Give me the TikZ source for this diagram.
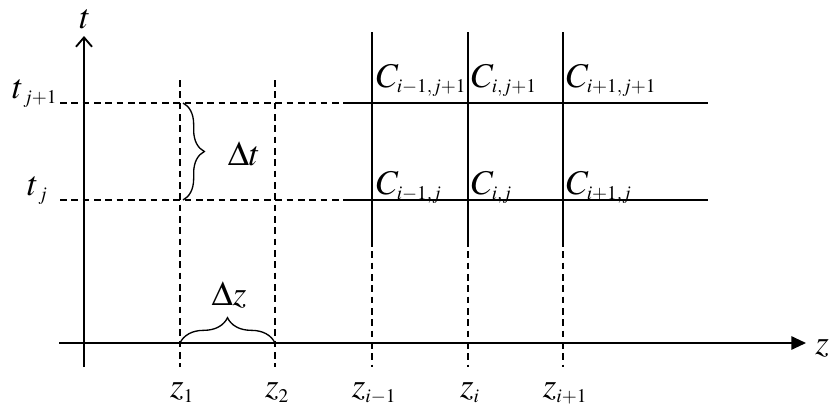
\documentclass[tikz,border=0pt]{standalone}
\usepackage{mathptmx}
\DeclareMathSizes{26}{26}{14.5}{11}
\usetikzlibrary{arrows.meta,decorations.pathreplacing}

\begin{document}
\begin{tikzpicture}[x=0.75pt,y=-0.75pt,font=\fontsize{26}{30}\selectfont,
  axis/.style={line width=1.4pt},
  gridline/.style={line width=1.4pt},
  guide/.style={line width=1.4pt,dash pattern=on 5pt off 3.5pt},
  brace/.style={decorate,decoration={brace,amplitude=#1},line width=1pt}]
  \useasboundingbox (0,0) rectangle (832,407);

  % axes
  \coordinate (tbot) at (84,367);
  \coordinate (ttop) at (84,36);
  \coordinate (zleft) at (59,343);
  \coordinate (zright) at (806,343);
  \draw[axis,-{Straight Barb[length=7pt,width=12pt]}] (tbot) -- (ttop);
  \draw[axis,-{Triangle[length=11pt,width=10pt]}] (zleft) -- (zright);
  \node[anchor=base,inner sep=0pt] (tlab) at (85,28) {$t$};
  \node[anchor=base,inner sep=0pt] (zlab) at (822,354) {$z$};

  % time levels
  \coordinate (tja) at (60,200);
  \coordinate (tjb) at (345,200);
  \coordinate (tjc) at (708,200);
  \coordinate (tja1) at (60,103);
  \coordinate (tjb1) at (345,103);
  \coordinate (tjc1) at (708,103);
  \draw[guide] (tja) -- (tjb);
  \draw[gridline] (tjb) -- (tjc);
  \draw[guide] (tja1) -- (tjb1);
  \draw[gridline] (tjb1) -- (tjc1);
  \node[anchor=base west,inner sep=0pt] (tj1lab) at (12,98) {$t_{\,j+1}$};
  \node[anchor=base west,inner sep=0pt] (tjlab) at (27,195) {$t_{\,j}$};

  % space nodes
  \draw[guide] (180,80) coordinate (za) -- (180,367) coordinate (zb);
  \draw[guide] (275,80) coordinate (zc) -- (275,367) coordinate (zd);
  \foreach \x/\n in {372/im, 468/i, 563/ip}{
    \draw[gridline] (\x,32) -- (\x,240) coordinate (s\n);
    \draw[guide] (s\n) -- (\x,367);
  }
  \node[anchor=base] (z1) at (182,397) {$z_1$};
  \node[anchor=base] (z2) at (277,397) {$z_2$};
  \node[anchor=base] (zim) at (374,397) {$z_{i-1}$};
  \node[anchor=base] (zi) at (470,397) {$z_i$};
  \node[anchor=base] (zip) at (565,397) {$z_{i+1}$};

  % grid values
  \node[anchor=base west,inner sep=0pt] (cimj1) at (376,87) {$C_{i-1,j+1}$};
  \node[anchor=base west,inner sep=0pt] (cij1) at (471,87) {$C_{i,j+1}$};
  \node[anchor=base west,inner sep=0pt] (cipj1) at (566,87) {$C_{i+1,j+1}$};
  \node[anchor=base west,inner sep=0pt] (cimj) at (376,194) {$C_{i-1,j}$};
  \node[anchor=base west,inner sep=0pt] (cij) at (471,194) {$C_{i,j}$};
  \node[anchor=base west,inner sep=0pt] (cipj) at (566,194) {$C_{i+1,j}$};

  % steps
  \draw[brace=16pt] (183,103) -- (183,200);
  \node[anchor=base] (dt) at (244,165) {$\Delta t$};
  \draw[brace=19pt] (180,343) -- (275,343);
  \node[anchor=base] (dz) at (229,305) {$\Delta z$};
\end{tikzpicture}
\end{document}
